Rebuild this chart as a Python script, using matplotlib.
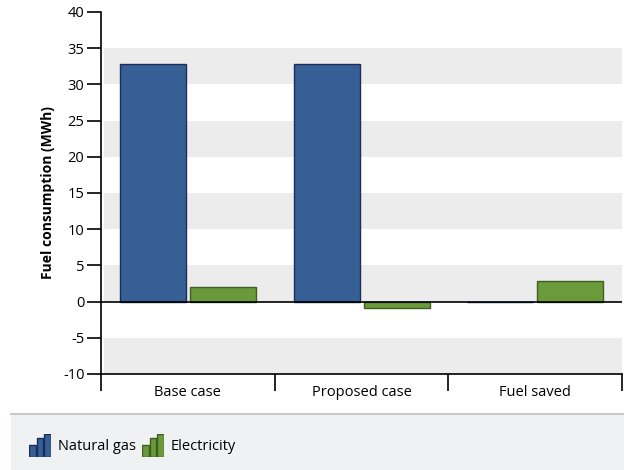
import numpy as np
import matplotlib.pyplot as plt
from matplotlib.patches import Rectangle

plt.rcParams['font.family'] = ['Open Sans', 'DejaVu Sans']

# data
categories = ['Base case', 'Proposed case', 'Fuel saved']
series_names = ['Natural gas', 'Electricity']
natural_gas = [32.8, 32.8, 0.0]
electricity = [1.95, -0.9, 2.9]
y_ticks = [-10, -5, 0, 5, 10, 15, 20, 25, 30, 35, 40]

gas_color, gas_edge = '#365f95', '#1b2e57'
elec_color, elec_edge = '#6a9a3b', '#3f5f1e'
band_color = '#ececec'

fig = plt.figure(figsize=(6.24, 4.70), dpi=100)

# legend panel (behind everything)
fig.patches.append(Rectangle((11 / 624, 0), 1, 56 / 470, transform=fig.transFigure,
                             facecolor='#f0f1f3', edgecolor='none', zorder=-5))
fig.lines.append(plt.Line2D([11 / 624, 1], [56 / 470, 56 / 470], transform=fig.transFigure,
                            color='#c8c8c8', lw=1.5, zorder=-4))

ax = fig.add_axes([0.162, 0.2043, 0.835, 0.7702])

x = np.arange(len(categories))
w = 0.38
gap = 0.012

# alternating grey bands
for lo in range(-10, 40, 10):
    ax.axhspan(lo, lo + 5, xmin=0.006, xmax=1.0, color=band_color, lw=0, zorder=0)

ax.bar(x - w / 2 - gap, natural_gas, w, color=gas_color, edgecolor=gas_edge, lw=1.0, zorder=2)
ax.bar(x + w / 2 + gap, electricity, w, color=elec_color, edgecolor=elec_edge, lw=1.0, zorder=2)

ax.axhline(0, color='black', lw=1.2, zorder=3)

ax.set_xlim(-0.5, len(categories) - 0.5)
ax.set_ylim(-10, 40)
ax.set_yticks(y_ticks)
ax.set_yticklabels([str(t) for t in y_ticks], fontsize=10.5)
ax.tick_params(axis='y', length=10, width=1.2, pad=2)

ax.set_xticks(x)
ax.set_xticklabels(categories, fontsize=10.5)
ax.tick_params(axis='x', length=0, pad=8)
ax.set_xticks(np.arange(len(categories) + 1) - 0.5, minor=True)
ax.tick_params(axis='x', which='minor', length=12, width=1.2)

for s in ['top', 'right']:
    ax.spines[s].set_visible(False)
for s in ['left', 'bottom']:
    ax.spines[s].set_linewidth(1.2)

ax.set_ylabel('Fuel consumption (MWh)', fontsize=10, fontweight='bold', labelpad=6)

# legend icons + names
icon_x = [29, 142]
text_x = [58, 171]
colors = [(gas_color, gas_edge), (elec_color, elec_edge)]
for name, ix, tx, (fc, ec) in zip(series_names, icon_x, text_x, colors):
    iax = fig.add_axes([ix / 624, 13 / 470, 22 / 624, 23 / 470])
    iax.bar([0, 1, 2], [0.55, 0.85, 1.0], 0.82, color=fc, edgecolor=ec, lw=1.0)
    iax.set_xlim(-0.45, 2.45)
    iax.set_ylim(0, 1.02)
    iax.axis('off')
    fig.text(tx / 624, 23 / 470, name, fontsize=10.5, va='center', ha='left')

fig.savefig('out.png', dpi=100)
